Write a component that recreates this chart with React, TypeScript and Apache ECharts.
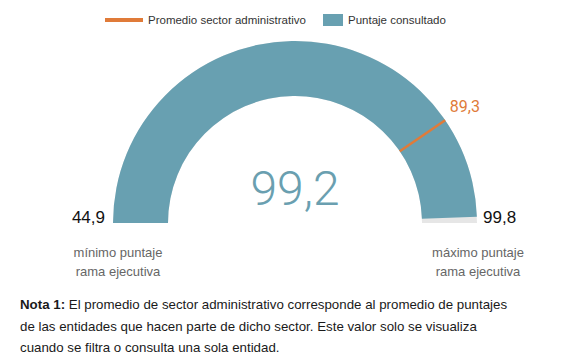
import React, { useEffect, useRef } from "react";
import * as echarts from "echarts";

const scoreRange = [44.9, 99.8];
const consultedScore = [99.2];
const sectorAverage = [89.3];
const seriesNames = ["Puntaje consultado", "Promedio sector administrativo"];
const rangeCaptions = ["mínimo puntaje\nrama ejecutiva", "máximo puntaje\nrama ejecutiva"];
const noteLines = [
  "{b|Nota 1:} El promedio de sector administrativo corresponde al promedio de puntajes",
  "de las entidades que hacen parte de dicho sector. Este valor solo se visualiza",
  "cuando se filtra o consulta una sola entidad.",
];

const BLUE = "#68a0b1";
const ORANGE = "#e07b39";
const fmt = (v: number) => v.toFixed(1).replace(".", ",");

export default function App() {
  const ref = useRef<HTMLDivElement>(null);
  useEffect(() => {
    if (!ref.current) return;
    const chart = echarts.init(ref.current, null, { renderer: "svg" });
    const cx = 295, cy = 223, R = 182, W = 55;
    const [mn, mx] = scoreRange;
    const frac = (sectorAverage[0] - mn) / (mx - mn);
    const th = Math.PI * (1 - frac);
    const LR = 206;
    const base = {
      type: "gauge",
      center: [cx, cy],
      radius: R,
      startAngle: 180,
      endAngle: 0,
      min: mn,
      max: mx,
      splitLine: { show: false },
      axisTick: { show: false },
      axisLabel: { show: false },
      title: { show: false },
    };
    const legendText = { fontFamily: "Liberation Sans", fontSize: 11.5, color: "#333" };
    chart.setOption({
      animation: false,
      legend: [
        {
          data: [{ name: seriesNames[1], icon: "rect", itemStyle: { color: ORANGE } }],
          left: 100,
          top: 9,
          itemWidth: 38,
          itemHeight: 4,
          selectedMode: false,
          textStyle: legendText,
        },
        {
          data: [{ name: seriesNames[0], icon: "rect", itemStyle: { color: BLUE } }],
          left: 318,
          top: 9,
          itemWidth: 20,
          itemHeight: 12,
          selectedMode: false,
          textStyle: legendText,
        },
      ],
      series: [
        {
          ...base,
          name: seriesNames[0],
          z: 2,
          itemStyle: { color: BLUE },
          axisLine: { lineStyle: { width: W, color: [[1, "#e6e6e6"]] } },
          progress: { show: true, width: W, roundCap: false, itemStyle: { color: BLUE } },
          pointer: { show: false },
          detail: {
            valueAnimation: false,
            offsetCenter: [0, -35],
            formatter: (v: number) => fmt(v),
            fontFamily: "Roboto",
            fontWeight: 300,
            fontSize: 48,
            color: "#6a9fb0",
          },
          data: [{ value: consultedScore[0], name: seriesNames[0] }],
        },
        {
          ...base,
          name: seriesNames[1],
          z: 5,
          itemStyle: { color: ORANGE },
          axisLine: { show: false },
          progress: { show: false },
          pointer: {
            show: true,
            icon: "rect",
            width: 2.5,
            length: W,
            offsetCenter: [0, -(R - W)],
            itemStyle: { color: ORANGE },
          },
          anchor: { show: false },
          detail: {
            valueAnimation: false,
            offsetCenter: [LR * Math.cos(th), -LR * Math.sin(th)],
            formatter: (v: number) => fmt(v),
            fontFamily: "Roboto",
            fontWeight: "normal",
            fontSize: 16,
            color: ORANGE,
          },
          data: [{ value: sectorAverage[0], name: seriesNames[1] }],
        },
      ],
      graphic: [
        {
          type: "text",
          style: {
            text: fmt(mn), x: cx - R - 8, y: cy - 6,
            textAlign: "right", align: "right", textVerticalAlign: "middle", verticalAlign: "middle",
            font: "17px 'Liberation Sans'", fill: "#111",
          },
        },
        {
          type: "text",
          style: {
            text: fmt(mx), x: cx + R + 6, y: cy - 6,
            textAlign: "left", align: "left", textVerticalAlign: "middle", verticalAlign: "middle",
            font: "17px 'Liberation Sans'", fill: "#111",
          },
        },
        {
          type: "text",
          style: {
            text: rangeCaptions[0], x: 118, y: 243, lineHeight: 19,
            textAlign: "center", align: "center",
            font: "13px 'Liberation Sans'", fill: "#666",
          },
        },
        {
          type: "text",
          style: {
            text: rangeCaptions[1], x: 478, y: 243, lineHeight: 19,
            textAlign: "center", align: "center",
            font: "13px 'Liberation Sans'", fill: "#666",
          },
        },
        {
          type: "text",
          left: 20,
          top: 294,
          style: {
            text: noteLines.join("\n"),
            fontFamily: "Liberation Sans",
            fontSize: 13.3,
            lineHeight: 21.5,
            fill: "#1a1a1a",
            rich: {
              b: { fontFamily: "Liberation Sans", fontSize: 13.3, fontWeight: "bold", lineHeight: 21.5, fill: "#1a1a1a" },
            },
          },
        },
      ],
    });
    return () => chart.dispose();
  }, []);
  return (
    <div
      ref={ref}
      style={{ position: "absolute", left: 0, top: 0, width: 573, height: 361, background: "#fff" }}
    />
  );
}
